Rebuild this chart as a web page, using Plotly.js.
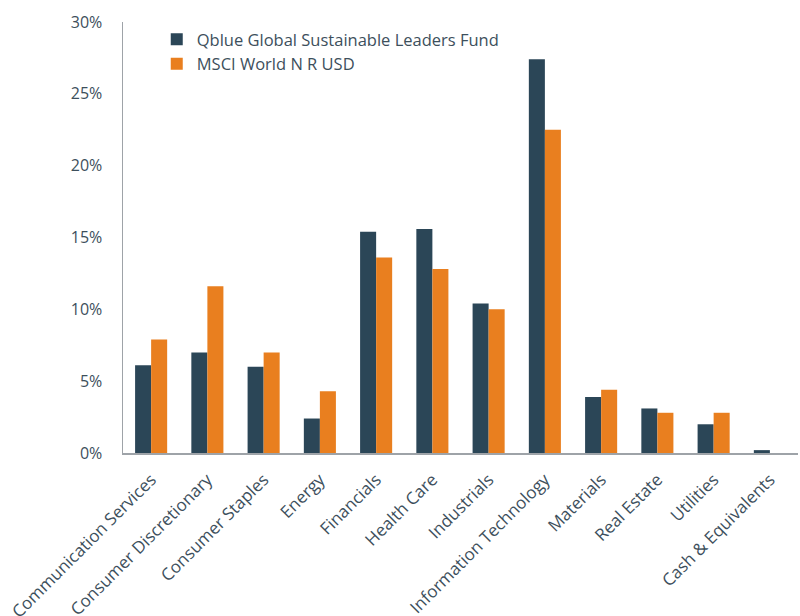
<!DOCTYPE html>
<html>
<head>
<meta charset="utf-8">
<script src="https://cdn.plot.ly/plotly-3.0.1.min.js"></script>
<style>html,body{margin:0;padding:0;background:#fff;}#chart{width:800px;height:616px;}</style>
</head>
<body>
<div id="chart"></div>
<script>
const categories = ["Communication Services","Consumer Discretionary","Consumer Staples","Energy","Financials","Health Care","Industrials","Information Technology","Materials","Real Estate","Utilities","Cash & Equivalents"];
const fundName = "Qblue Global Sustainable Leaders Fund";
const benchName = "MSCI World N R USD";
const fundValues = [6.1, 7.0, 6.0, 2.4, 15.4, 15.6, 10.4, 27.4, 3.9, 3.1, 2.0, 0.2];
const benchValues = [7.9, 11.6, 7.0, 4.3, 13.6, 12.8, 10.0, 22.5, 4.4, 2.8, 2.8, 0];
const yTicks = [0, 5, 10, 15, 20, 25, 30];
const yTickText = ["0%", "5%", "10%", "15%", "20%", "25%", "30%"];

const textColor = "#3d4f5c";
const data = [
  {type: "bar", name: fundName, x: categories, y: fundValues, marker: {color: "#2b4657", line: {width: 0}}},
  {type: "bar", name: benchName, x: categories, y: benchValues, marker: {color: "#e97f1f", line: {width: 0}}}
];
const layout = {
  width: 800, height: 616,
  margin: {l: 123, r: 2, t: 22, b: 163},
  paper_bgcolor: "#fff", plot_bgcolor: "#fff",
  font: {family: "Open Sans, sans-serif", color: textColor, size: 14},
  barmode: "group", bargap: 0.43, bargroupgap: 0,
  showlegend: true,
  legend: {x: 0.05, y: 1.0, xanchor: "left", yanchor: "top", font: {size: 16.5, color: textColor}, bgcolor: "rgba(0,0,0,0)", tracegroupgap: 0, itemwidth: 30},
  xaxis: {
    type: "category", showline: true, linecolor: "#9ea3a8", linewidth: 2, ticks: "",
    tickangle: -45, tickfont: {size: 17, color: textColor}, showgrid: false, zeroline: false,
    ticklabelstandoff: 8
  },
  yaxis: {
    range: [0, 30], tickvals: yTicks, ticktext: yTickText, showline: true, linecolor: "#9ea3a8", linewidth: 1.5,
    showgrid: false, zeroline: false, ticks: "outside", ticklen: 16, tickcolor: "rgba(0,0,0,0)",
    tickfont: {size: 16, color: textColor}
  }
};
Plotly.newPlot("chart", data, layout, {displayModeBar: false, staticPlot: true});
</script>
</body>
</html>
